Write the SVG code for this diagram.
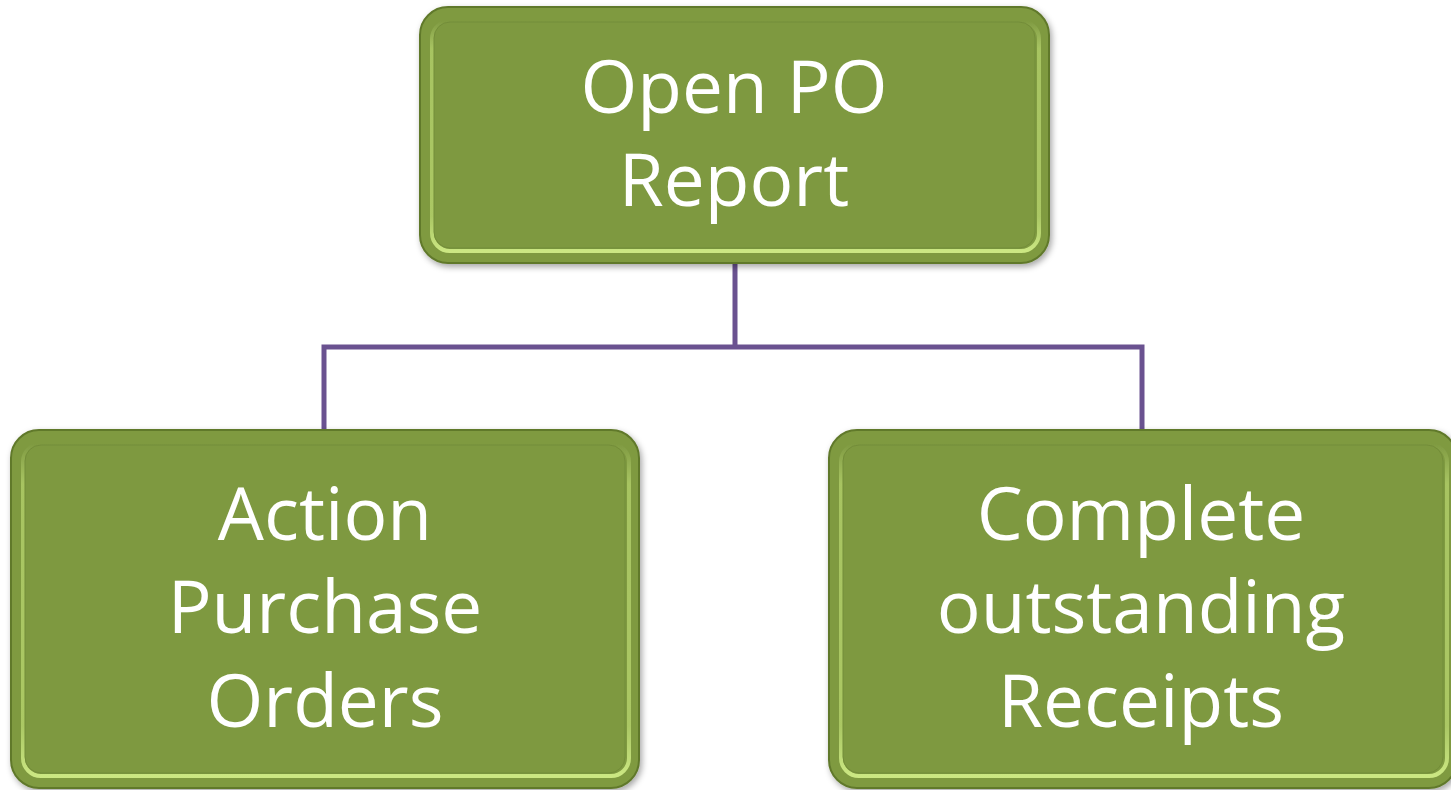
<svg xmlns="http://www.w3.org/2000/svg" width="1451" height="790" viewBox="0 0 1451 790">
<defs>
<filter id="sh" x="-5%" y="-5%" width="110%" height="115%">
<feDropShadow dx="2" dy="3" stdDeviation="3" flood-color="#000" flood-opacity="0.35"/>
</filter>
<linearGradient id="hl" x1="0" y1="0" x2="0" y2="1">
<stop offset="0" stop-color="#d4f08a" stop-opacity="0"/>
<stop offset="0.12" stop-color="#c8e67c" stop-opacity="0.55"/>
<stop offset="0.85" stop-color="#c8e67c" stop-opacity="0.6"/>
<stop offset="1" stop-color="#d4f08a" stop-opacity="0.9"/>
</linearGradient>
<style>
.box{fill:#7f9a41;stroke:#61792c;stroke-width:2}
.bev{fill:none;stroke:url(#hl);stroke-width:4}
.inner{fill:#7e9940;stroke:#738d39;stroke-width:1}
.t{fill:#fff;font-family:"Open Sans","Liberation Sans",sans-serif;font-size:73px;text-anchor:middle}
.c{fill:none;stroke:#6a5290;stroke-width:5}
</style>
</defs>
<g id="connectors">
<path class="c" d="M735 262 V347 M324 430 V347 H1142 V430"/>
</g>
<g id="n1" filter="url(#sh)">
<rect class="box" x="420" y="7" width="629" height="256" rx="28"/>
<rect class="bev" x="432" y="21" width="607" height="230" rx="18"/>
<rect class="inner" x="434" y="22" width="601" height="226" rx="16"/>
<text class="t" x="734" y="113">Open PO</text>
<text class="t" x="734" y="206">Report</text>
</g>
<g id="n2" filter="url(#sh)">
<rect class="box" x="11" y="430" width="628" height="358" rx="28"/>
<rect class="bev" x="23" y="444" width="606" height="332" rx="18"/>
<rect class="inner" x="25" y="445" width="600" height="328" rx="16"/>
<text class="t" x="325" y="540">Action</text>
<text class="t" x="325" y="633">Purchase</text>
<text class="t" x="325" y="727">Orders</text>
</g>
<g id="n3" filter="url(#sh)">
<rect class="box" x="829" y="430" width="628" height="358" rx="28"/>
<rect class="bev" x="841" y="444" width="606" height="332" rx="18"/>
<rect class="inner" x="843" y="445" width="600" height="328" rx="16"/>
<text class="t" x="1141" y="540">Complete</text>
<text class="t" x="1141" y="633">outstanding</text>
<text class="t" x="1141" y="727">Receipts</text>
</g>
</svg>
